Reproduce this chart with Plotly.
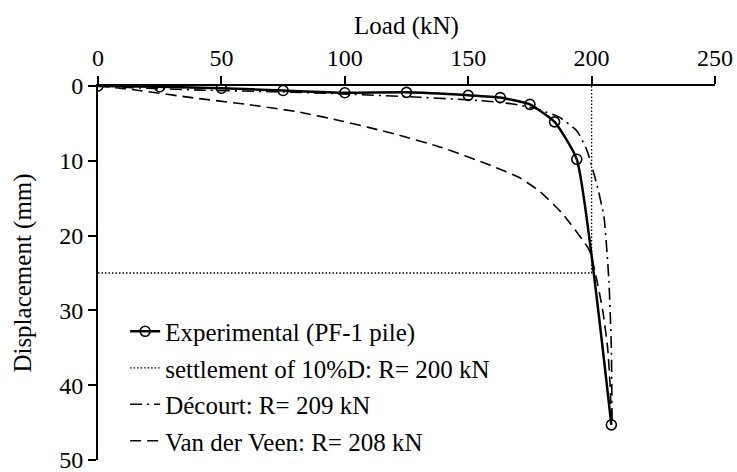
import plotly.graph_objects as go

# Experimental (PF-1 pile)
exp_load = [0, 25, 50, 75, 100, 125, 150, 163, 175, 185, 194, 208]
exp_disp = [0, 0.1, 0.3, 0.6, 0.9, 0.85, 1.25, 1.55, 2.45, 4.8, 9.8, 45.3]

# Décourt extrapolation (R = 209 kN)
dec_load = [0, 20, 42, 70, 95, 130, 155, 168, 178, 187, 194, 198, 202, 205, 207, 208, 208.3]
dec_disp = [0, 0.3, 0.55, 0.75, 1.0, 1.5, 1.95, 2.4, 3.1, 4.2, 6.0, 8.5, 13.0, 17.5, 26.0, 35.0, 45.0]

# Van der Veen extrapolation (R = 208 kN)
vdv_load = [0, 12, 39, 60, 80, 99, 120, 139, 159, 171, 179, 188, 199, 201.5, 204.5, 206.5, 207.5, 208]
vdv_disp = [0, 0.4, 1.6, 2.45, 3.4, 4.7, 6.4, 8.2, 10.6, 12.3, 14.1, 17.0, 21.9, 25.0, 30.0, 35.0, 40.0, 45.0]

# Settlement of 10% D criterion
crit_load = [0, 200, 200]
crit_disp = [25, 25, 0]

x_ticks = [0, 50, 100, 150, 200, 250]
y_ticks = [0, 10, 20, 30, 40, 50]

FONT = "'Liberation Serif', 'Times New Roman', Times, serif"

fig = go.Figure()
fig.add_trace(go.Scatter(
    x=exp_load, y=exp_disp, mode="lines+markers", name="Experimental (PF-1 pile)",
    line=dict(color="black", width=2.5, shape="spline", smoothing=0.45),
    marker=dict(symbol="circle-open", size=10, color="black", line=dict(width=1.6)),
    legendgroup="a"))
fig.add_trace(go.Scatter(
    x=crit_load, y=crit_disp, mode="lines", name="settlement of 10%D: R= 200 kN",
    line=dict(color="black", width=1.3, dash="1.5px,2px"), legendgroup="b"))
fig.add_trace(go.Scatter(
    x=dec_load, y=dec_disp, mode="lines", name="Décourt: R= 209 kN",
    line=dict(color="black", width=1.6, dash="12px,5px,2px,5px", shape="spline", smoothing=0.5),
    legendgroup="c"))
fig.add_trace(go.Scatter(
    x=vdv_load, y=vdv_disp, mode="lines", name="Van der Veen: R= 208 kN",
    line=dict(color="black", width=1.6, dash="11px,6px", shape="spline", smoothing=0.5),
    legendgroup="d"))

fig.update_layout(
    width=737, height=472,
    margin=dict(l=98, r=22, t=86, b=12, autoexpand=False),
    paper_bgcolor="white", plot_bgcolor="white",
    font=dict(family=FONT, size=24, color="black"),
    showlegend=True,
    legend=dict(x=0.044, y=0.405, xanchor="left", yanchor="top",
                font=dict(family=FONT, size=25, color="black"),
                bgcolor="rgba(0,0,0,0)", tracegroupgap=1, itemwidth=30),
    xaxis=dict(
        side="top", range=[0, 250], tickvals=x_ticks, ticktext=[str(v) for v in x_ticks],
        showgrid=False, zeroline=False, showline=True, linecolor="black", linewidth=2,
        ticks="outside", ticklen=8, tickwidth=2, tickcolor="black", automargin=False,
        ticklabeloverflow="allow",
        title=dict(text="Load (kN)", font=dict(size=25, color="black"), standoff=4),
        tickfont=dict(size=24, color="black")),
    yaxis=dict(
        range=[50, 0], tickvals=y_ticks, ticktext=[str(v) for v in y_ticks],
        showgrid=False, zeroline=False, showline=True, linecolor="black", linewidth=2,
        ticks="outside", ticklen=8, tickwidth=2, tickcolor="black", automargin=False,
        ticklabeloverflow="allow",
        title=dict(text="Displacement (mm)", font=dict(size=25, color="black"), standoff=20),
        tickfont=dict(size=24, color="black")),
)

fig.write_html("out.html", config={"displayModeBar": False},
               post_script="document.body.style.margin='0';")
